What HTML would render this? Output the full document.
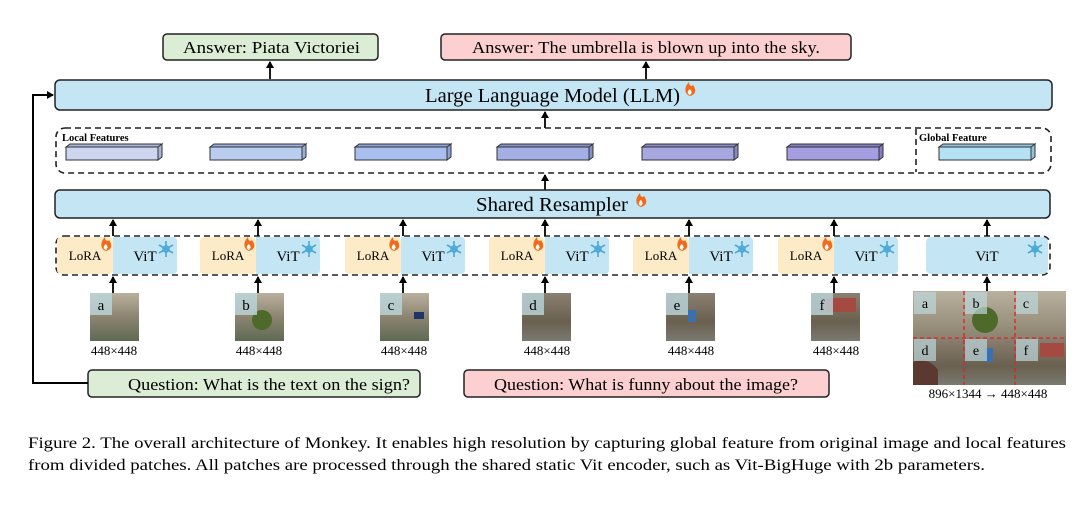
<!DOCTYPE html>
<html><head><meta charset="utf-8"><style>
html,body{margin:0;padding:0;background:#fff;}
svg{display:block;font-family:"Liberation Serif",serif;}
</style></head><body>
<svg width="1080" height="510" viewBox="0 0 1080 510" xmlns="http://www.w3.org/2000/svg">
<defs>
<marker id="ar" markerWidth="8" markerHeight="8" refX="6" refY="4" orient="auto" markerUnits="userSpaceOnUse"><path d="M0,0 L7,4 L0,8 z" fill="#000"/></marker>
<g id="fire"><path d="M0,0 C-6,-2 -6,-9 -1,-14 C-1,-10 2,-9 3,-11 C6,-7 7,-2 0,0 z" fill="#f26b1d"/><path d="M0,-1 C-3,-2 -3,-5 0,-7 C1,-5 3,-4 0,-1z" fill="#fff"/></g>
<g id="snow" stroke="#4aa8d8" stroke-width="1.6" fill="none"><circle r="3"/><path d="M0,-8 V8 M-7,-4 L7,4 M-7,4 L7,-4"/></g>
</defs>
<!-- answers -->
<rect x="163" y="34" width="215" height="26" rx="4" fill="#dcedd5" stroke="#222" stroke-width="1.5"/>
<text x="183" y="53" font-size="17" textLength="177" lengthAdjust="spacingAndGlyphs">Answer:  Piata Victoriei</text>
<rect x="441" y="34" width="410" height="26" rx="4" fill="#fcd0d0" stroke="#222" stroke-width="1.5"/>
<text x="472" y="53" font-size="17" textLength="348" lengthAdjust="spacingAndGlyphs">Answer:  The umbrella is blown up into the sky.</text>
<g stroke="#000" stroke-width="1.8" marker-end="url(#ar)">
<line x1="270" y1="79" x2="270" y2="62"/>
<line x1="646" y1="79" x2="646" y2="62"/>
<line x1="545" y1="128" x2="545" y2="112"/>
<line x1="545" y1="190" x2="545" y2="175"/>
</g>
<!-- LLM -->
<rect x="55" y="80" width="997" height="30" rx="5" fill="#c3e5f4" stroke="#222" stroke-width="1.5"/>
<text x="425" y="102" font-size="20" textLength="255" lengthAdjust="spacingAndGlyphs">Large Language Model (LLM)</text>
<use href="#fire" x="690" y="96"/>
<!-- features -->
<rect x="56" y="128" width="995" height="45" rx="9" fill="none" stroke="#222" stroke-width="1.6" stroke-dasharray="6,4"/>
<line x1="916" y1="129" x2="916" y2="172" stroke="#222" stroke-width="1.6" stroke-dasharray="6,4"/>
<text x="62" y="141" font-size="10.5" font-weight="bold">Local Features</text>
<text x="919" y="141" font-size="10.5" font-weight="bold">Global Feature</text>
<g stroke="#333" stroke-width="1">
<rect x="66" y="147" width="92" height="13" fill="#cdd5ef"/><path d="M66,147 l4,-3 h92 l-4,3z M158,147 l4,-3 v13 l-4,3z" fill="#aab4d8"/>
<rect x="210" y="147" width="92" height="13" fill="#b9cdef"/><path d="M210,147 l4,-3 h92 l-4,3z M302,147 l4,-3 v13 l-4,3z" fill="#98aedc"/>
<rect x="355" y="147" width="92" height="13" fill="#a9c0ee"/><path d="M355,147 l4,-3 h92 l-4,3z M447,147 l4,-3 v13 l-4,3z" fill="#8aa2d8"/>
<rect x="497" y="147" width="92" height="13" fill="#a4b0e4"/><path d="M497,147 l4,-3 h92 l-4,3z M589,147 l4,-3 v13 l-4,3z" fill="#8490c8"/>
<rect x="642" y="147" width="92" height="13" fill="#a9a7df"/><path d="M642,147 l4,-3 h92 l-4,3z M734,147 l4,-3 v13 l-4,3z" fill="#8a88c4"/>
<rect x="787" y="147" width="92" height="13" fill="#a59ee0"/><path d="M787,147 l4,-3 h92 l-4,3z M879,147 l4,-3 v13 l-4,3z" fill="#857ec4"/>
<rect x="939" y="147" width="92" height="13" fill="#b4e2f4"/><path d="M939,147 l4,-3 h92 l-4,3z M1031,147 l4,-3 v13 l-4,3z" fill="#90c4dc"/>
</g>
<!-- resampler -->
<rect x="55" y="190" width="995" height="28" rx="5" fill="#c3e5f4" stroke="#222" stroke-width="1.5"/>
<text x="476" y="211" font-size="20" textLength="152" lengthAdjust="spacingAndGlyphs">Shared Resampler</text>
<use href="#fire" x="641" y="207"/>
<!-- encoders -->
<rect x="56" y="236" width="994" height="39" rx="8" fill="none" stroke="#222" stroke-width="1.6" stroke-dasharray="6,4"/>
<g font-size="14">
<g transform="translate(57,0)"><rect x="0" y="237" width="56" height="37" rx="4" fill="#fcebc6"/><rect x="56" y="237" width="64" height="37" rx="4" fill="#c3e5f4"/><rect x="56" y="237" width="6" height="37" fill="#c3e5f4"/><text x="28" y="260" text-anchor="middle" font-size="13">LoRA</text><text x="88" y="261" text-anchor="middle" font-size="15">ViT</text></g>
<g transform="translate(200,0)"><rect x="0" y="237" width="56" height="37" rx="4" fill="#fcebc6"/><rect x="56" y="237" width="64" height="37" rx="4" fill="#c3e5f4"/><rect x="56" y="237" width="6" height="37" fill="#c3e5f4"/><text x="28" y="260" text-anchor="middle" font-size="13">LoRA</text><text x="88" y="261" text-anchor="middle" font-size="15">ViT</text></g>
<g transform="translate(345,0)"><rect x="0" y="237" width="56" height="37" rx="4" fill="#fcebc6"/><rect x="56" y="237" width="64" height="37" rx="4" fill="#c3e5f4"/><rect x="56" y="237" width="6" height="37" fill="#c3e5f4"/><text x="28" y="260" text-anchor="middle" font-size="13">LoRA</text><text x="88" y="261" text-anchor="middle" font-size="15">ViT</text></g>
<g transform="translate(489,0)"><rect x="0" y="237" width="56" height="37" rx="4" fill="#fcebc6"/><rect x="56" y="237" width="64" height="37" rx="4" fill="#c3e5f4"/><rect x="56" y="237" width="6" height="37" fill="#c3e5f4"/><text x="28" y="260" text-anchor="middle" font-size="13">LoRA</text><text x="88" y="261" text-anchor="middle" font-size="15">ViT</text></g>
<g transform="translate(633,0)"><rect x="0" y="237" width="56" height="37" rx="4" fill="#fcebc6"/><rect x="56" y="237" width="64" height="37" rx="4" fill="#c3e5f4"/><rect x="56" y="237" width="6" height="37" fill="#c3e5f4"/><text x="28" y="260" text-anchor="middle" font-size="13">LoRA</text><text x="88" y="261" text-anchor="middle" font-size="15">ViT</text></g>
<g transform="translate(778,0)"><rect x="0" y="237" width="56" height="37" rx="4" fill="#fcebc6"/><rect x="56" y="237" width="64" height="37" rx="4" fill="#c3e5f4"/><rect x="56" y="237" width="6" height="37" fill="#c3e5f4"/><text x="28" y="260" text-anchor="middle" font-size="13">LoRA</text><text x="88" y="261" text-anchor="middle" font-size="15">ViT</text></g>
<rect x="926" y="237" width="122" height="37" rx="5" fill="#c3e5f4"/><text x="987" y="261" text-anchor="middle" font-size="15">ViT</text>
</g>
<use href="#fire" x="106" y="251"/><use href="#fire" x="249" y="251"/><use href="#fire" x="394" y="251"/><use href="#fire" x="538" y="251"/><use href="#fire" x="682" y="251"/><use href="#fire" x="827" y="251"/>
<use href="#snow" x="166" y="249"/><use href="#snow" x="309" y="249"/><use href="#snow" x="454" y="249"/><use href="#snow" x="598" y="249"/><use href="#snow" x="742" y="249"/><use href="#snow" x="887" y="249"/><use href="#snow" x="1035" y="249"/>
<g stroke="#000" stroke-width="1.8" marker-end="url(#ar)">
<line x1="113" y1="236" x2="113" y2="220"/><line x1="258" y1="236" x2="258" y2="220"/><line x1="403" y1="236" x2="403" y2="220"/><line x1="545" y1="236" x2="545" y2="220"/><line x1="689" y1="236" x2="689" y2="220"/><line x1="834" y1="236" x2="834" y2="220"/><line x1="987" y1="236" x2="987" y2="220"/>
<line x1="113" y1="293" x2="113" y2="277"/><line x1="258" y1="293" x2="258" y2="277"/><line x1="403" y1="293" x2="403" y2="277"/><line x1="545" y1="293" x2="545" y2="277"/><line x1="689" y1="293" x2="689" y2="277"/><line x1="834" y1="293" x2="834" y2="277"/><line x1="987" y1="291" x2="987" y2="277"/>
</g>
<!-- images -->
<defs>
<linearGradient id="g1" x1="0" y1="0" x2="0" y2="1"><stop offset="0" stop-color="#b9b09e"/><stop offset="0.5" stop-color="#8c8470"/><stop offset="1" stop-color="#5e6a52"/></linearGradient>
<linearGradient id="g2" x1="0" y1="0" x2="0" y2="1"><stop offset="0" stop-color="#8a7f70"/><stop offset="0.6" stop-color="#6a6050"/><stop offset="1" stop-color="#7a7a70"/></linearGradient>
</defs>
<g font-size="15">
<rect x="90" y="293" width="49" height="48" fill="url(#g1)"/><rect x="90" y="293" width="22" height="22" fill="#bcd7dc" opacity="0.8"/><text x="101" y="310" text-anchor="middle">a</text>
<rect x="235" y="293" width="49" height="48" fill="url(#g1)"/><circle cx="262" cy="320" r="10" fill="#4d6a2a"/><rect x="235" y="293" width="22" height="22" fill="#bcd7dc" opacity="0.8"/><text x="246" y="310" text-anchor="middle">b</text>
<rect x="380" y="293" width="49" height="48" fill="url(#g1)"/><rect x="380" y="293" width="22" height="22" fill="#bcd7dc" opacity="0.8"/><text x="391" y="310" text-anchor="middle">c</text><rect x="414" y="312" width="10" height="7" fill="#223366"/>
<rect x="522" y="293" width="49" height="48" fill="url(#g2)"/><rect x="522" y="293" width="22" height="22" fill="#bcd7dc" opacity="0.8"/><text x="533" y="310" text-anchor="middle">d</text>
<rect x="666" y="293" width="49" height="48" fill="url(#g2)"/><rect x="688" y="310" width="8" height="12" fill="#3a6fb0"/><rect x="666" y="293" width="22" height="22" fill="#bcd7dc" opacity="0.8"/><text x="677" y="310" text-anchor="middle">e</text>
<rect x="811" y="293" width="49" height="48" fill="url(#g2)"/><rect x="826" y="298" width="30" height="14" fill="#a54a40"/><rect x="811" y="293" width="22" height="22" fill="#bcd7dc" opacity="0.8"/><text x="822" y="310" text-anchor="middle">f</text>
</g>
<g font-size="13" text-anchor="middle">
<text x="114" y="355">448×448</text><text x="259" y="355">448×448</text><text x="404" y="355">448×448</text><text x="547" y="355">448×448</text><text x="691" y="355">448×448</text><text x="836" y="355">448×448</text>
<text x="988" y="398">896×1344 → 448×448</text>
</g>
<!-- big image -->
<rect x="913" y="291" width="153" height="94" fill="url(#g1)"/>
<rect x="913" y="338" width="153" height="47" fill="url(#g2)"/>
<circle cx="985" cy="320" r="13" fill="#4d6a2a"/>
<rect x="1040" y="343" width="24" height="14" fill="#a54a40"/>
<rect x="985" y="348" width="8" height="14" fill="#3a6fb0"/>
<path d="M913,362 q15,-6 25,8 v15 h-25z" fill="#5a3a30"/>
<g font-size="14" text-anchor="middle">
<rect x="914" y="292" width="22" height="22" fill="#bcd7dc" opacity="0.7"/><text x="925" y="308">a</text>
<rect x="965" y="292" width="22" height="22" fill="#bcd7dc" opacity="0.7"/><text x="976" y="308">b</text>
<rect x="1016" y="292" width="22" height="22" fill="#bcd7dc" opacity="0.7"/><text x="1026" y="308">c</text>
<rect x="914" y="339" width="22" height="22" fill="#bcd7dc" opacity="0.7"/><text x="925" y="355">d</text>
<rect x="965" y="339" width="22" height="22" fill="#bcd7dc" opacity="0.7"/><text x="976" y="355">e</text>
<rect x="1016" y="339" width="22" height="22" fill="#bcd7dc" opacity="0.7"/><text x="1026" y="355">f</text>
</g>
<g stroke="#e02020" stroke-width="1.3" stroke-dasharray="4,3"><line x1="964" y1="291" x2="964" y2="385"/><line x1="1015" y1="291" x2="1015" y2="385"/><line x1="913" y1="338" x2="1066" y2="338"/></g>
<!-- questions -->
<rect x="88" y="370" width="332" height="27" rx="4" fill="#dcedd5" stroke="#222" stroke-width="1.5"/>
<text x="128" y="390" font-size="17" textLength="282" lengthAdjust="spacingAndGlyphs">Question: What is the text on the sign?</text>
<rect x="464" y="370" width="365" height="27" rx="4" fill="#fcd0d0" stroke="#222" stroke-width="1.5"/>
<text x="494" y="390" font-size="17" textLength="304" lengthAdjust="spacingAndGlyphs">Question: What is funny about the image?</text>
<path d="M88,383 H33 V95 H53" fill="none" stroke="#000" stroke-width="2" marker-end="url(#ar)"/>
<!-- caption -->
<text x="28" y="448" font-size="15.5" textLength="1038" lengthAdjust="spacingAndGlyphs">Figure 2. The overall architecture of Monkey. It enables high resolution by capturing global feature from original image and local features</text>
<text x="28" y="470" font-size="15.5" textLength="957" lengthAdjust="spacingAndGlyphs">from divided patches. All patches are processed through the shared static Vit encoder, such as Vit-BigHuge with 2b parameters.</text>
</svg>
</body></html>
